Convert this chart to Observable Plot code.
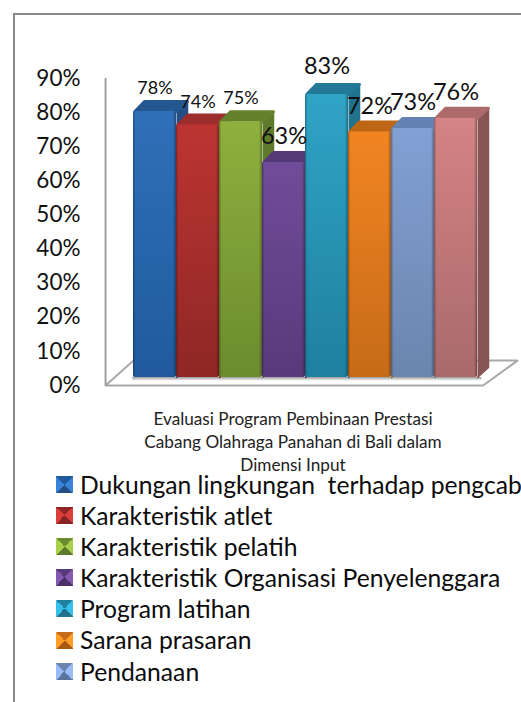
<!DOCTYPE html>
<html>
<head>
<meta charset="utf-8">
<script src="https://cdn.jsdelivr.net/npm/d3@7"></script>
<script src="https://cdn.jsdelivr.net/npm/@observablehq/plot@0.6"></script>
<style>
  html, body { margin: 0; padding: 0; background: #fff; width: 521px; height: 702px; overflow: hidden; position: relative; font-family: Lato, sans-serif; color: #111; }
  #frame { position: absolute; left: 13px; top: 13px; right: 0; bottom: 0; border-left: 2px solid #8a8a8a; border-top: 2px solid #8a8a8a; }
  #chart { position: absolute; left: 0; top: 0; }
  #chart svg { display: block; }
  #caption { position: absolute; left: 93px; top: 406.5px; width: 400px; text-align: center; font-size: 17.2px; line-height: 23px; color: #222; }
  #legend { position: absolute; left: 56px; top: 468.5px; }
  .row { display: flex; align-items: center; height: 31.2px; line-height: 31.2px; white-space: pre; font-size: 24.7px; color: #0c0c0c; }
  .sw { width: 17px; height: 17px; margin-right: 7px; flex: none; box-sizing: border-box; }
</style>
</head>
<body>
<div id="frame"></div>
<div id="chart"></div>
<div id="caption">Evaluasi Program Pembinaan Prestasi<br>Cabang Olahraga Panahan di Bali dalam<br>Dimensi Input</div>
<div id="legend"></div>
<script>
const legendNames = ["Dukungan lingkungan  terhadap pengcab", "Karakteristik atlet", "Karakteristik pelatih", "Karakteristik Organisasi Penyelenggara", "Program latihan", "Sarana prasaran", "Pendanaan"];
const values = [78, 74, 75, 63, 83, 72, 73, 76];
const yTicks = [0, 10, 20, 30, 40, 50, 60, 70, 80, 90];

const frontTop = ["#3070b8", "#bc3533", "#8fb03e", "#714c98", "#30a4c6", "#f28522", "#82a0d4", "#d58384"];
const frontBottom = ["#205a9c", "#8e2725", "#6c8b2e", "#583a7b", "#1f80a0", "#c66b18", "#6a86ae", "#a96a6b"];
const topFace = ["#24568f", "#9c2d2a", "#66812c", "#553878", "#237a98", "#bd6615", "#6482b4", "#ac6a6a"];
const sideFace = ["#234f85", "#842523", "#5f7a2a", "#4c3169", "#20728d", "#a85a12", "#5a749c", "#875555"];
const labelSizes = [18, 18, 18, 23.5, 23.5, 23.5, 23.5, 23.5];
const labelLift = [-31, -31, -31, -34, -36, -33, -34, -34];

const depthX = 0.256, depthY = 2.93, lift = -8, barGap = 1;

const poly = (pts) => pts.map(([x, y]) => ({x, y}));
const floor = poly([[-0.65, 0], [8.13, 0], [8.93, 7.3], [0, 7.3], [-0.65, 0]]);

function defs() {
  const d = d3.create("svg:defs");
  values.forEach((_, i) => {
    const g = d.append("linearGradient").attr("id", "g" + i).attr("x1", 0).attr("y1", 0).attr("x2", 0).attr("y2", 1);
    g.append("stop").attr("offset", 0).attr("stop-color", frontTop[i]);
    g.append("stop").attr("offset", 1).attr("stop-color", frontBottom[i]);
  });
  const e = d.append("linearGradient").attr("id", "edge");
  [[0, .3], [.06, 0], [.93, 0], [1, .34]].forEach(([o, a]) =>
    e.append("stop").attr("offset", o).attr("stop-color", "#000").attr("stop-opacity", a));
  const s = d.append("linearGradient").attr("id", "shadow").attr("x1", 0).attr("y1", 0).attr("x2", 0).attr("y2", 1);
  s.append("stop").attr("offset", 0).attr("stop-color", "#9a9a9a");
  s.append("stop").attr("offset", 1).attr("stop-color", "#fff");
  return d.node();
}

const marks = [
  defs,
  Plot.line(floor, {x: "x", y: "y", fill: "white", stroke: "#a8a8a8", strokeWidth: 2}),
  Plot.rect([0], {x1: -0.02, x2: 8.1, y1: 2.35, y2: 1.2, fill: "url(#shadow)"}),
  Plot.ruleX([-0.65], {y1: 0, y2: 90, stroke: "#a0a0a0", strokeWidth: 2}),
  Plot.axisY({anchor: "left", ticks: yTicks, tickSize: 0, tickPadding: 25, tickFormat: (d) => d + "%", label: null, fontSize: 22.5, fill: "#111"})
];

values.forEach((v, i) => {
  const side = poly([[i + barGap, 0], [i + barGap + depthX, depthY], [i + barGap + depthX, v + depthY], [i + barGap, v]]);
  const top = poly([[i + 0.03, v], [i + depthX, v + depthY], [i + barGap + depthX, v + depthY], [i + barGap, v]]);
  marks.push(
    Plot.line(side, {x: "x", y: "y", fill: sideFace[i], stroke: sideFace[i], strokeWidth: 1.5, strokeLinejoin: "round", dy: lift}),
    Plot.line(top, {x: "x", y: "y", fill: topFace[i], stroke: topFace[i], strokeWidth: 3, strokeLinejoin: "round", dy: lift}),
    Plot.rect([v], {x1: i, x2: i + barGap, y1: 0, y2: (d) => d, fill: `url(#g${i})`, rx: 2, dy: lift}),
    Plot.rect([v], {x1: i, x2: i + barGap, y1: 0, y2: (d) => d, fill: "url(#edge)", rx: 2, dy: lift})
  );
});

values.forEach((v, i) => {
  marks.push(Plot.text([v], {x: i + 0.5, y: (d) => d, text: (d) => d + "%", fontSize: labelSizes[i], dy: labelLift[i], fill: "#111"}));
});

const chart = Plot.plot({
  width: 521, height: 470,
  marginLeft: 105, marginTop: 0, marginRight: 0, marginBottom: 0,
  style: {fontFamily: "Lato, sans-serif", background: "transparent"},
  x: {domain: [0, 8], range: [133, 477], axis: null},
  y: {domain: [0, 90], range: [385, 78], axis: null},
  marks
});
document.getElementById("chart").append(chart);

const legend = d3.select("#legend");
legendNames.forEach((name, i) => {
  const row = legend.append("div").attr("class", "row");
  const lit = d3.color(frontTop[i]).brighter(0.45);
  row.append("div").attr("class", "sw").style("background",
    `conic-gradient(from 315deg, ${frontBottom[i]} 0 25%, ${lit} 25% 50%, ${sideFace[i]} 50% 75%, ${lit} 75% 100%)`);
  row.append("span").text(name);
});
</script>
</body>
</html>
